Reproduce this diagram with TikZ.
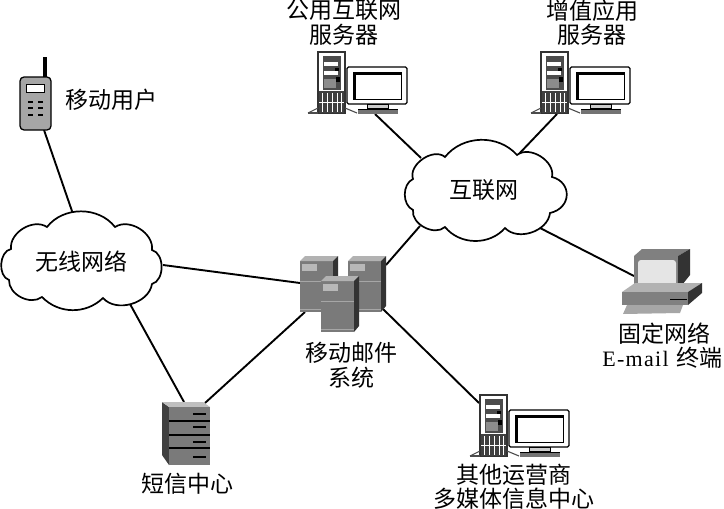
\documentclass[tikz,border=0pt]{standalone}
\usepackage{fontspec}
\setmainfont{Liberation Serif}
\newfontfamily\cjk{Noto Sans CJK SC}
\tikzset{
  x=1pt,y=-1pt,
  link/.style={draw=black,line width=1.9pt},
  cloudline/.style={draw=black,line width=1.7pt,fill=white},
  lbl/.style={font=\fontsize{23}{24.5}\selectfont\cjk,inner sep=0pt,anchor=center,align=center},
  workstation/.pic={
    % tower
    \fill[white] (0,0) rectangle (27,61);
    \draw[line width=1.4pt,draw=black!80] (0,0) rectangle (27,61);
    \fill[black!70] (5,4) rectangle (23,38);
    \fill[white] (6,10) rectangle (20,14);
    \fill[white] (6,19) rectangle (20,23);
    \fill[black!45] (6,27) rectangle (18,36);
    \fill[black] (17,16) rectangle (21,19);
    \fill[black] (18,25) rectangle (22,30);
    \fill[black!75] (1,39) rectangle (26,61);
    \foreach \i in {4,9,14,19,23}{\draw[white,line width=0.8pt] (\i,41) -- (\i,60);}
    \draw[white,line width=1pt] (1,50) -- (26,50);
    \draw[line width=1.1pt,black!70] (0,56) -- (-10,61);
    \draw[line width=1.1pt,black!70] (-10,61) -- (0,61);
    \draw[line width=1.1pt,black!70] (27,56) -- (39,61);
    % monitor
    \draw[line width=1.2pt,fill=white,rounded corners=1.5pt] (29,15) rectangle (89,52);
    \fill[black] (35,20) rectangle (84,48);
    \fill[white] (38,23) rectangle (83,47);
    \draw[line width=1pt,fill=black!20] (49,52) rectangle (70,56);
    \fill[black!55] (40,57) rectangle (80,62);
    \draw[line width=1pt,black] (40,57) -- (80,57);
  },
  serverbox/.pic={
    \fill[black!52] (0,0) rectangle (33,51);
    \fill[black!30] (0,0) -- (5,-5) -- (38,-5) -- (33,0) -- cycle;
    \fill[black!80] (33,0) -- (38,-5) -- (38,45) -- (33,51) -- cycle;
    \fill[black!28] (2,3) rectangle (17,10);
    \draw[black!35,line width=0.6pt] (0,20) -- (33,20);
    \draw[black!35,line width=0.6pt] (0,48) -- (33,48);
  }
}
\begin{document}
\begin{tikzpicture}
\useasboundingbox (0,0) rectangle (724,509);
\fill[white] (0,0) rectangle (724,509);
% connector end points
\coordinate (phoneEnd) at (44,130);
\coordinate (wlTop) at (73,214);
\coordinate (wlRight) at (163,265);
\coordinate (wlBottom) at (130,304);
\coordinate (mailLeft) at (300,283);
\coordinate (mailDown) at (305,312);
\coordinate (mailTop) at (386,265);
\coordinate (mailRight) at (383,309);
\coordinate (smsA) at (184,402);
\coordinate (smsB) at (205,403);
\coordinate (netA) at (421,158);
\coordinate (netB) at (517,156);
\coordinate (netC) at (420,226);
\coordinate (netD) at (540,228);
\coordinate (pubEnd) at (375,114);
\coordinate (valEnd) at (557,114);
\coordinate (termEnd) at (634,276);
\coordinate (otherEnd) at (479,403);
\draw[link] (phoneEnd) -- (wlTop);
\draw[link] (wlRight) -- (mailLeft);
\draw[link] (wlBottom) -- (smsA);
\draw[link] (mailDown) -- (smsB);
\draw[link] (mailTop) -- (netC);
\draw[link] (mailRight) -- (otherEnd);
\draw[link] (pubEnd) -- (netA);
\draw[link] (valEnd) -- (netB);
\draw[link] (netD) -- (termEnd);
% clouds
\draw[cloudline] (413,179) to[bend left=75] (445,157) to[bend left=50] (517,155)
  to[bend left=70] (552,177) .. controls (572,182) and (572,208) .. (550,213) to[bend left=65] (505,228) to[bend left=50] (445,227)
  to[bend left=70] (413,210) to[bend left=65] cycle;
\draw[cloudline] (11,249) to[bend left=65] (47,227) to[bend left=52] (115,227)
  to[bend left=65] (152,250) to[bend left=75] (152,284) to[bend left=65] (103,298)
  to[bend left=45] (42,297) to[bend left=65] (9,280) to[bend left=75] cycle;
\node[lbl] (net) at (484,190) {互联网};
\node[lbl] (wl) at (81,262) {无线网络};
% phone
\fill[black] (43,57) rectangle (47,77);
\draw[line width=1.3pt,fill=black!35,rounded corners=4pt] (20,77) rectangle (51,130);
\draw[line width=1pt,fill=white] (26,84) rectangle (44,92);
\foreach \yy in {102,108,115}{
  \fill[black] (28,\yy-1) rectangle (33,\yy+1);
  \fill[black] (38,\yy-1) rectangle (43,\yy+1);
}
\node[lbl] (mobile) at (111,100) {移动用户};
% workstations
\pic at (318,52) {workstation};
\pic at (541,52) {workstation};
\pic at (480,395) {workstation};
\node[lbl] (pub) at (344,22.5) {公用互联网\\服务器};
\node[lbl] (val) at (592,22.5) {增值应用\\服务器};
\node[lbl] (other) at (514,486.5) {其他运营商\\多媒体信息中心};
% mail system
\pic at (300,261) {serverbox};
\pic at (348,261) {serverbox};
\pic at (321,281) {serverbox};
\node[lbl] (mail) at (351,365) {移动邮件\\系统};
% sms centre
\fill[black!75] (162,402) -- (169,407) -- (169,465) -- (162,455) -- cycle;
\fill[black!25] (162,402) -- (203,402) -- (210,407) -- (169,407) -- cycle;
\fill[black!52] (169,407) rectangle (210,465);
\foreach \yy in {421,435,448}{\draw[black,line width=1.1pt] (169,\yy) -- (210,\yy);}
\foreach \yy in {414,427,442,457}{\draw[black,line width=1.1pt] (193,\yy) -- (206,\yy);}
\node[lbl] (sms) at (187,484) {短信中心};
% terminal
\fill[black!50] (634,256) -- (642,249) -- (690,249) -- (678,256) -- cycle;
\fill[black!50] (634,256) rectangle (678,290);
\fill[black!80] (678,256) -- (690,249) -- (690,275) -- (678,290) -- cycle;
\fill[black!10,rounded corners=3pt] (638,260) rectangle (676,287);
\fill[black] (636,290) rectangle (678,292);
\fill[black!30] (622,292) -- (635,283) -- (702,283) -- (688,292) -- cycle;
\fill[black!50] (622,292) rectangle (688,305);
\fill[black!80] (688,292) -- (702,283) -- (702,293) -- (688,305) -- cycle;
\draw[black,line width=0.8pt] (670,299) -- (687,299);
\fill[black!35] (627,305) -- (683,305) -- (680,313) -- (623,314) -- cycle;
\node[lbl] (termA) at (664,334) {固定网络};
\node[lbl] (termB) at (662.5,358) {{\fontspec{Liberation Serif}[LetterSpace=6]\fontsize{22}{25}\selectfont E-mail}\hspace{8pt}终端};
\end{tikzpicture}
\end{document}
